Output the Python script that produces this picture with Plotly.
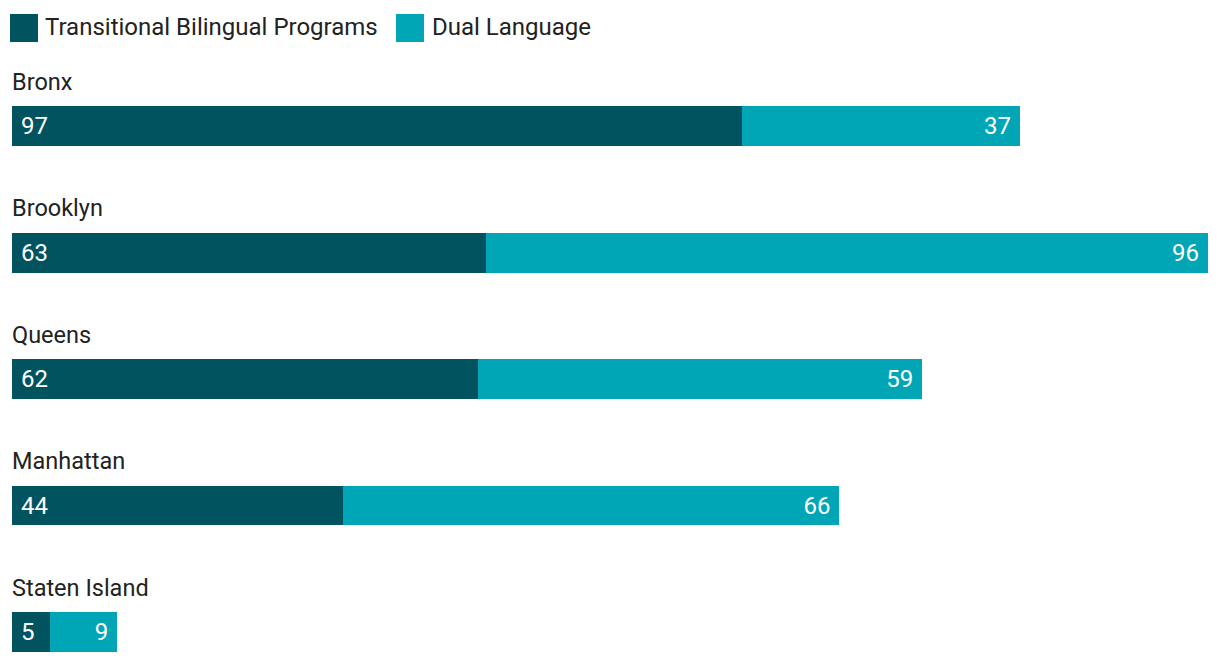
import plotly.graph_objects as go

boroughs = ["Bronx", "Brooklyn", "Queens", "Manhattan", "Staten Island"]
transitional = [97, 63, 62, 44, 5]
dual = [37, 96, 59, 66, 9]
series_names = ["Transitional Bilingual Programs", "Dual Language"]
colors = ["#00535F", "#00A6B5"]

pos = list(range(len(boroughs)))
FONT = "Roboto"
FS = 24
PAD = "\u00a0"

fig = go.Figure()
fig.add_trace(go.Bar(
    y=pos, x=transitional, orientation="h", name=series_names[0],
    marker=dict(color=colors[0], line=dict(width=0)), width=0.316,
    text=[PAD + str(v) for v in transitional], textposition="inside",
    insidetextanchor="start", textangle=0,
    textfont=dict(color="white", size=FS, family=FONT),
    hoverinfo="x+name",
))
fig.add_trace(go.Bar(
    y=pos, x=dual, orientation="h", name=series_names[1],
    marker=dict(color=colors[1], line=dict(width=0)), width=0.316,
    text=[str(v) + PAD for v in dual], textposition="inside",
    insidetextanchor="end", textangle=0,
    textfont=dict(color="white", size=FS, family=FONT),
    hoverinfo="x+name",
))

annotations = []
for i, b in enumerate(boroughs):
    annotations.append(dict(
        x=0, xref="paper", xanchor="left", y=i - 0.35, yref="y", yanchor="middle",
        text=b, showarrow=False, font=dict(size=23.5, color="#222222", family=FONT),
        xshift=-2,
    ))

# Manual legend (squares + labels)
shapes = []
legend_x = [10, 396]
legend_text_x = [45, 432]
for k in range(2):
    shapes.append(dict(
        type="rect", xref="paper", yref="paper", xsizemode="pixel", ysizemode="pixel",
        xanchor=0, yanchor=1,
        x0=legend_x[k] - 12, x1=legend_x[k] - 12 + 28,
        y0=60 - 14, y1=60 - 42,
        fillcolor=colors[k], line=dict(width=0),
    ))
    annotations.append(dict(
        x=0, xref="paper", xanchor="left", xshift=legend_text_x[k] - 12 - 2,
        y=1, yref="paper", yanchor="middle", yshift=60 - 27,
        text=series_names[k], showarrow=False,
        font=dict(size=FS, color="#222222", family=FONT),
    ))

fig.update_layout(
    barmode="stack",
    width=1212, height=656,
    margin=dict(l=4, r=12, t=52, b=0, pad=0),
    plot_bgcolor="white", paper_bgcolor="white",
    showlegend=False,
    xaxis=dict(range=[0, 159], visible=False, fixedrange=True),
    yaxis=dict(range=[4.253, -0.522], visible=False, fixedrange=True),
    annotations=annotations,
    shapes=shapes,
    font=dict(family=FONT),
    uniformtext=dict(mode=False),
)

fig.write_html("out.html")
